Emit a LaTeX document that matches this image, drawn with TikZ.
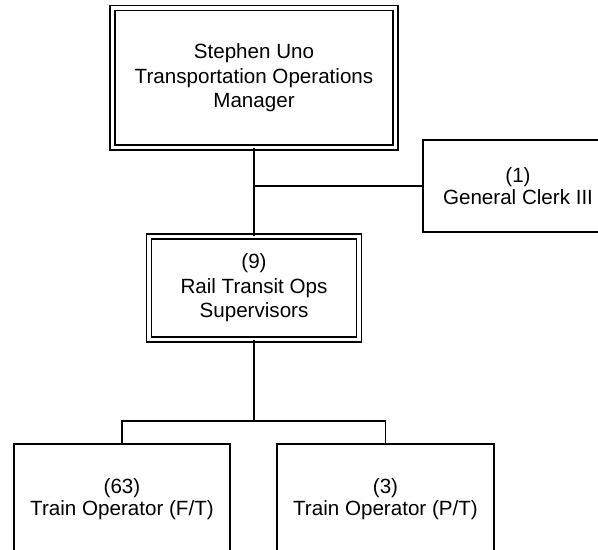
\documentclass[tikz,border=0pt]{standalone}
\usepackage{fontspec}
\setmainfont{Liberation Sans}
\begin{document}
\begin{tikzpicture}[x=1bp,y=-1bp,
  box/.style={draw, line width=1.8bp, rectangle, align=center, inner sep=0pt,
              font=\fontsize{20.6bp}{22bp}\selectfont},
  dbox/.style={box, double, double distance=3.2bp, line width=1.6bp,
              font=\fontsize{20.6bp}{24.5bp}\selectfont},
  conn/.style={line width=1.8bp}]
\useasboundingbox (0,0) rectangle (598,550);
\clip (0,0) rectangle (598,550);
\node[dbox, minimum width=283bp, minimum height=139.5bp] (top) at (254,77.75)
  {Stephen Uno\\Transportation Operations\\Manager};
\node[box, minimum width=190bp, minimum height=92bp] (clerk) at (518,186)
  {(1)\\General Clerk III};
\node[dbox, minimum width=210bp, minimum height=103bp] (sup) at (254,288)
  {(9)\\Rail Transit Ops\\Supervisors};
\node[box, minimum width=216bp, minimum height=110bp] (ft) at (122,499)
  {(63)\\Train Operator (F/T)};
\node[box, minimum width=217bp, minimum height=110bp] (pt) at (385.5,499)
  {(3)\\Train Operator (P/T)};
\coordinate (bus) at (254,421);
\draw[conn] (top.south) -- (sup.north);
\draw[conn] (top.south |- clerk.west) -- (clerk.west);
\draw[conn] (sup.south) -- (bus);
\draw[conn] (ft.north) |- (bus) -| (pt.north);
\end{tikzpicture}
\end{document}
